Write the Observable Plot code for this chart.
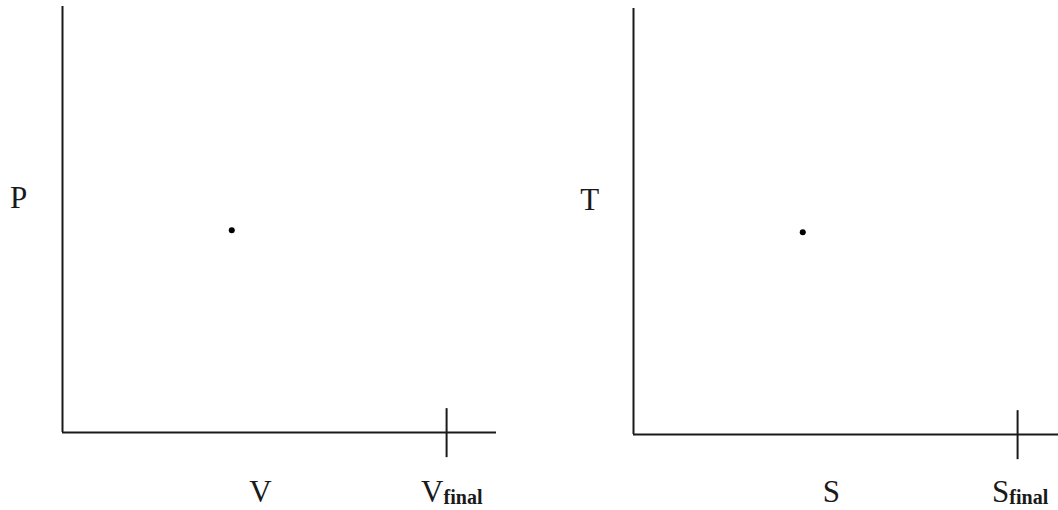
<!DOCTYPE html>
<html>
<head>
<meta charset="utf-8">
<script src="https://cdn.jsdelivr.net/npm/d3@7"></script>
<script src="https://cdn.jsdelivr.net/npm/@observablehq/plot@0.6"></script>
<style>
  html, body { margin: 0; padding: 0; background: #fff; }
  #chart { position: relative; width: 1058px; height: 510px; overflow: hidden; }
  #chart svg { position: absolute; top: 0; background: transparent; }
</style>
</head>
<body>
<div id="chart"></div>
<script>
// ---- data (schematic coordinates, axis extent 0..100) ----
const yAxisLabels = ["P", "T"];
const xAxisLabels = ["V", "S"];
const finalSubscript = "final";
const axisExtent = [0, 100];
const stateX = [39, 39];
const stateY = [47.5, 47.5];
const finalTickX = 88.5;
const finalTickSpan = [-5.9, 5.6];
const xLabelAt = [45.6, -16.2];
const finalLabelAt = [82.6, -16.2];
const subLabelX = [87.8, 86.6];
const subLabelY = -16.9;
const yLabelAt = [-10.1, 52.8];

const panelLeft = [0, 571];
const panelWidth = [571, 487];
const panelShift = [0, 2]; // vertical pixel shift of the right panel's lines

const root = document.getElementById("chart");
const serif = "Liberation Serif, Times New Roman, serif";
const ink = "#1a1a1a";

yAxisLabels.forEach((yl, i) => {
  const s = panelShift[i];
  const fy = {domain: axisExtent, range: [432 + s, 6 + s]};
  // labels of the bottom row stay on the same pixel baseline in both panels
  const lab = v => v + s / ((432 - 6) / 100);
  const chart = Plot.plot({
    width: panelWidth[i],
    height: 510,
    margin: 0,
    x: {domain: axisExtent, range: [62, 496], axis: null},
    y: {...fy, axis: null},
    marks: [
      Plot.ruleX([axisExtent[0]], {y1: axisExtent[0], y2: axisExtent[1], stroke: ink, strokeWidth: 2}),
      Plot.ruleY([axisExtent[0]], {x1: axisExtent[0], x2: axisExtent[1], stroke: ink, strokeWidth: 2}),
      Plot.ruleX([finalTickX], {y1: finalTickSpan[0], y2: finalTickSpan[1], stroke: ink, strokeWidth: 2}),
      Plot.dot([{x: stateX[i], y: stateY[i]}], {x: "x", y: "y", r: 3, fill: "#000", stroke: "none"}),
      Plot.text([yl], {x: yLabelAt[0], y: yLabelAt[1], text: d => d, textAnchor: "middle", lineAnchor: "bottom", fontFamily: serif, fontSize: 31, fill: ink}),
      Plot.text([xAxisLabels[i]], {x: xLabelAt[0], y: lab(xLabelAt[1]), text: d => d, textAnchor: "middle", lineAnchor: "bottom", fontFamily: serif, fontSize: 31, fill: ink}),
      Plot.text([xAxisLabels[i]], {x: finalLabelAt[0], y: lab(finalLabelAt[1]), text: d => d, textAnchor: "start", lineAnchor: "bottom", fontFamily: serif, fontSize: 31, fill: ink}),
      Plot.text([finalSubscript], {x: subLabelX[i], y: lab(subLabelY), text: d => d, textAnchor: "start", lineAnchor: "bottom", fontFamily: serif, fontSize: 20, fontWeight: "bold", fill: ink})
    ]
  });
  chart.style.left = panelLeft[i] + "px";
  root.appendChild(chart);
});
</script>
</body>
</html>
